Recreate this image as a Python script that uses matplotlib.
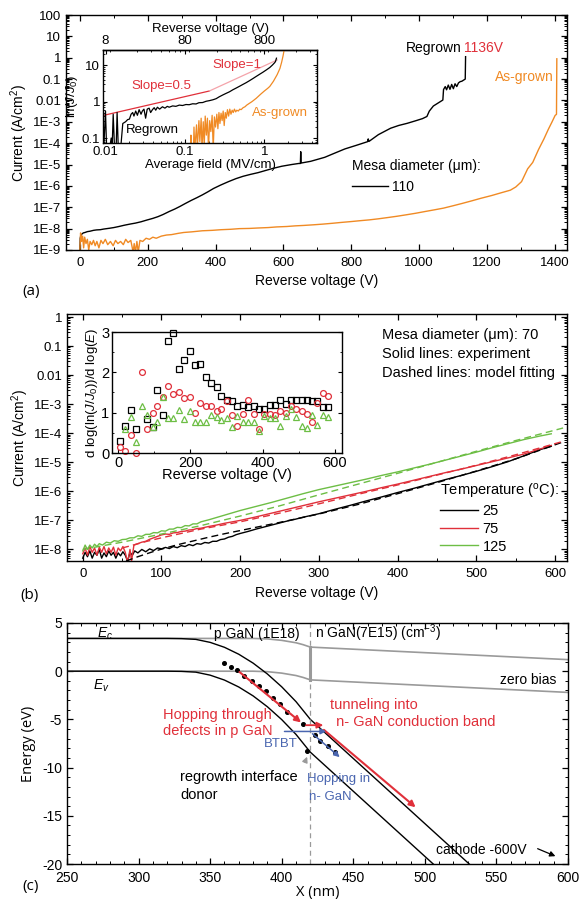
import numpy as np
import matplotlib.pyplot as plt
from matplotlib.ticker import FixedLocator, LogLocator, MultipleLocator, NullFormatter, FuncFormatter

plt.rcParams['font.family'] = ['Liberation Sans', 'DejaVu Sans']
plt.rcParams['mathtext.fontset'] = 'custom'
plt.rcParams['mathtext.rm'] = 'Liberation Sans'
plt.rcParams['mathtext.it'] = 'Liberation Sans:italic'
plt.rcParams['axes.linewidth'] = 1.0
plt.rcParams['axes.unicode_minus'] = False

# ---------------- data: panel (a) ----------------
reg_v = [0, 1, 3, 6, 10, 15, 22, 30, 40, 49, 60, 70, 88, 100, 115, 131, 150, 164, 180, 197,
         215, 230, 245, 263, 280, 295, 310, 328, 345, 361, 378, 394, 415, 438, 460, 481, 503,
         525, 547, 569, 595, 624, 645, 650, 651, 652, 680, 700, 722, 746, 781, 815, 848, 850,
         852, 880, 916, 940, 965, 990, 1010, 1023, 1030, 1042, 1062, 1070, 1072, 1077, 1081,
         1086, 1091, 1096, 1101, 1106, 1111, 1116, 1121, 1126, 1132, 1136, 1137]
reg_log = [-9.0, -8.45, -8.3, -8.25, -8.2, -8.18, -8.14, -8.12, -8.08, -8.06, -8.05, -8.02,
           -7.98, -7.95, -7.9, -7.84, -7.78, -7.74, -7.68, -7.6, -7.52, -7.44, -7.34, -7.2,
           -7.08, -6.96, -6.83, -6.68, -6.55, -6.42, -6.27, -6.12, -5.96, -5.8, -5.66, -5.55,
           -5.46, -5.38, -5.28, -5.18, -5.08, -5.0, -4.95, -4.95, -4.4, -4.93, -4.85, -4.76,
           -4.66, -4.5, -4.27, -4.1, -3.93, -3.8, -3.92, -3.6, -3.3, -3.17, -3.07, -2.95,
           -2.85, -2.75, -2.5, -2.26, -2.06, -1.98, -1.49, -1.35, -1.5, -1.28, -1.48, -1.25,
           -1.45, -1.22, -1.35, -1.18, -1.12, -1.1, -1.04, -1.0, 0.05]

asg_v = [0, 2, 5, 8, 11, 14, 18, 22, 26, 30, 35, 40, 45, 50, 56, 62, 68, 75, 82, 90, 98,
         105, 112, 120, 128, 135, 142, 150, 157, 160, 164, 168, 172, 177, 185, 195, 205, 215,
         225, 240, 255, 270, 290, 306, 330, 361, 390, 416, 445, 470, 500, 525, 555, 580, 610,
         635, 660, 689, 715, 744, 770, 799, 825, 853, 880, 908, 935, 963, 990, 1017, 1045,
         1072, 1100, 1127, 1155, 1182, 1214, 1240, 1269, 1285, 1302, 1320, 1335, 1352, 1368,
         1381, 1392, 1401, 1405, 1406]
asg_log = [-9.0, -8.2, -8.6, -8.35, -8.9, -8.4, -8.7, -8.5, -9.0, -8.6, -8.75, -8.55, -8.8,
           -8.6, -8.9, -8.55, -8.7, -8.5, -8.75, -8.6, -8.8, -8.55, -8.7, -8.6, -8.75, -8.5,
           -8.65, -8.55, -9.1, -8.7, -9.1, -8.6, -9.1, -8.55, -8.6, -8.45, -8.5, -8.4, -8.45,
           -8.35, -8.3, -8.28, -8.22, -8.18, -8.15, -8.1, -8.08, -8.05, -8.03, -8.0, -7.99,
           -7.97, -7.95, -7.92, -7.9, -7.87, -7.85, -7.82, -7.79, -7.75, -7.71, -7.67, -7.63,
           -7.59, -7.54, -7.48, -7.42, -7.35, -7.28, -7.2, -7.12, -7.04, -6.93, -6.82, -6.7,
           -6.58, -6.45, -6.33, -6.2, -6.05, -5.8, -5.2, -4.9, -4.3, -3.8, -3.35, -3.0, -2.7,
           -2.65, -0.05]

# inset (a): average field (MV/cm) vs ln(J/J0)
slope05_f = [0.0093, 0.203]
slope05_y = [0.415, 1.95]
slope1_f = [0.203, 1.45]
slope1_y = [1.95, 13.9]
reg_f = [0.0095, 0.0100, 0.0103, 0.0112, 0.0118, 0.0121, 0.0125, 0.0130, 0.0136, 0.0140,
         0.0145, 0.0155, 0.0165, 0.0179, 0.0190, 0.0200, 0.0210, 0.0220, 0.0228, 0.0240,
         0.0252, 0.0265, 0.0280, 0.0291, 0.0305, 0.0320, 0.0335, 0.0354, 0.0370, 0.0390,
         0.0410, 0.0429, 0.0450, 0.0480, 0.0521, 0.0560, 0.0600, 0.0633, 0.0700, 0.0769,
         0.0850, 0.0934, 0.103, 0.113, 0.125, 0.138, 0.150, 0.167, 0.185, 0.203, 0.225,
         0.247, 0.270, 0.300, 0.330, 0.363, 0.400, 0.442, 0.490, 0.536, 0.590, 0.651, 0.720,
         0.790, 0.870, 0.960, 1.06, 1.17, 1.26, 1.34, 1.38, 1.42]
reg_ln = [0.05, 0.55, 0.06, 0.05, 0.1, 0.05, 0.45, 0.05, 0.05, 0.5, 0.05, 0.05, 0.25, 0.28,
          0.32, 0.33, 0.45, 0.5, 0.4, 0.55, 0.42, 0.6, 0.45, 0.55, 0.62, 0.35, 0.62, 0.66,
          0.5, 0.6, 0.68, 0.58, 0.7, 0.62, 0.72, 0.66, 0.74, 0.7, 0.76, 0.74, 0.8, 0.78, 0.83,
          0.82, 0.87, 0.86, 0.93, 0.94, 1.02, 1.06, 1.12, 1.2, 1.35, 1.52, 1.68, 1.85, 2.1,
          2.35, 2.65, 2.95, 3.3, 3.75, 4.3, 4.9, 5.6, 6.4, 7.4, 8.6, 10.0, 11.5, 12.5, 15.5]
asg_f = [0.117, 0.119, 0.121, 0.128, 0.130, 0.133, 0.140, 0.143, 0.150, 0.154, 0.160, 0.164,
         0.170, 0.175, 0.180, 0.186, 0.192, 0.198, 0.205, 0.212, 0.220, 0.227, 0.235, 0.243,
         0.252, 0.260, 0.268, 0.276, 0.285, 0.294, 0.303, 0.312, 0.322, 0.332, 0.343, 0.355,
         0.367, 0.380, 0.393, 0.406, 0.42, 0.435, 0.45, 0.47, 0.49, 0.51, 0.54, 0.57, 0.60,
         0.65, 0.70, 0.79, 0.90, 1.00, 1.10, 1.17, 1.30, 1.45, 1.57, 1.65, 1.72, 1.78]
asg_ln = [0.05, 0.12, 0.05, 0.05, 0.2, 0.05, 0.23, 0.05, 0.3, 0.08, 0.35, 0.05, 0.28, 0.06,
          0.4, 0.12, 0.35, 0.05, 0.3, 0.15, 0.42, 0.05, 0.38, 0.2, 0.45, 0.18, 0.5, 0.25,
          0.48, 0.3, 0.55, 0.22, 0.5, 0.35, 0.6, 0.4, 0.62, 0.45, 0.58, 0.5, 0.62, 0.52,
          0.58, 0.55, 0.62, 0.6, 0.68, 0.72, 0.8, 0.9, 1.0, 1.23, 1.6, 1.95, 2.3, 2.6, 3.6,
          5.5, 8.1, 12.0, 18.0, 27.0]

# ---------------- data: panel (b) ----------------
b25_v = [0, 3, 6, 9, 12, 15, 18, 21, 24, 27, 30, 33, 36, 39, 42, 45, 48, 51, 54, 57, 60, 63,
         66, 70, 75, 80, 85, 90, 95, 100, 105, 110, 115, 120, 125, 130, 135, 140, 145, 150,
         155, 160, 165, 170, 175, 180, 185, 190, 195, 200, 210, 220, 230, 240, 250, 260, 270,
         280, 290, 300, 320, 340, 360, 380, 400, 420, 440, 460, 480, 500, 520, 540, 560, 580,
         595]
b25_log = [-8.3, -8.1, -8.25, -8.05, -8.3, -8.1, -8.2, -8.0, -8.3, -8.12, -8.25, -8.05, -8.2,
           -8.1, -8.3, -8.12, -8.22, -8.08, -8.2, -8.4, -8.1, -8.2, -8.05, -8.12, -8.0, -8.08,
           -7.98, -8.04, -7.95, -7.98, -7.93, -7.97, -7.9, -7.94, -7.87, -7.9, -7.83, -7.87,
           -7.8, -7.82, -7.76, -7.78, -7.72, -7.72, -7.66, -7.64, -7.58, -7.55, -7.49, -7.45,
           -7.38, -7.3, -7.23, -7.16, -7.09, -7.02, -6.96, -6.89, -6.83, -6.77, -6.62, -6.48,
           -6.33, -6.19, -6.04, -5.9, -5.75, -5.6, -5.46, -5.31, -5.15, -4.98, -4.78, -4.57,
           -4.45]
b25fit_v = [55, 60, 70, 80, 90, 100, 120, 140, 160, 180, 200, 250, 300, 350, 400, 450, 500,
            550, 610]
b25fit_log = [-8.4, -8.35, -8.25, -8.16, -8.07, -7.99, -7.84, -7.71, -7.58, -7.46, -7.35,
              -7.07, -6.78, -6.45, -6.08, -5.7, -5.3, -4.88, -4.3]

b75_v = [0, 3, 6, 9, 12, 15, 18, 21, 24, 27, 30, 33, 36, 39, 42, 45, 48, 51, 54, 57, 60, 62,
         65, 70, 75, 80, 85, 90, 95, 100, 105, 110, 115, 120, 125, 130, 135, 140, 145, 150,
         160, 170, 180, 190, 200, 220, 240, 260, 280, 300, 320, 340, 360, 380, 400, 420, 440,
         460, 480, 500, 520, 540, 560, 580, 595]
b75_log = [-8.15, -7.95, -8.2, -7.9, -8.1, -7.95, -8.2, -7.92, -8.1, -7.9, -8.15, -7.95, -8.1,
           -7.92, -8.2, -7.95, -8.05, -7.9, -8.1, -8.45, -8.0, -8.4, -7.85, -7.8, -7.75, -7.72,
           -7.65, -7.6, -7.55, -7.5, -7.47, -7.48, -7.43, -7.42, -7.38, -7.37, -7.33, -7.32,
           -7.28, -7.27, -7.21, -7.16, -7.1, -7.05, -7.0, -6.88, -6.75, -6.62, -6.49, -6.36,
           -6.24, -6.12, -6.0, -5.87, -5.75, -5.62, -5.49, -5.36, -5.24, -5.11, -4.98, -4.85,
           -4.72, -4.55, -4.42]
b75fit_v = [50, 60, 80, 100, 150, 200, 250, 300, 350, 400, 450, 500, 550, 610]
b75fit_log = [-7.95, -7.88, -7.73, -7.6, -7.3, -7.05, -6.75, -6.43, -6.1, -5.78, -5.44, -5.1,
              -4.74, -4.28]

b125_v = [0, 3, 6, 9, 12, 15, 18, 21, 25, 30, 35, 40, 45, 50, 55, 60, 65, 70, 75, 80, 85, 90,
          95, 100, 105, 110, 115, 120, 125, 130, 135, 140, 145, 150, 160, 170, 180, 190, 200,
          220, 240, 260, 280, 300, 320, 340, 360, 380, 400, 420, 440, 460, 480, 500, 520, 540,
          560, 580, 595]
b125_log = [-8.05, -7.85, -8.0, -7.85, -7.95, -7.82, -7.9, -7.8, -7.85, -7.75, -7.78, -7.7,
            -7.72, -7.66, -7.65, -7.6, -7.6, -7.53, -7.55, -7.48, -7.48, -7.42, -7.43, -7.36,
            -7.37, -7.3, -7.3, -7.24, -7.25, -7.18, -7.19, -7.12, -7.12, -7.05, -6.98, -6.9,
            -6.82, -6.74, -6.66, -6.52, -6.38, -6.23, -6.08, -5.94, -5.82, -5.7, -5.58, -5.45,
            -5.33, -5.2, -5.07, -4.93, -4.79, -4.65, -4.5, -4.36, -4.22, -4.1, -4.02]
b125fit_v = [0, 50, 100, 150, 200, 250, 300, 350, 400, 450, 500, 550, 610]
b125fit_log = [-8.0, -7.75, -7.47, -7.18, -6.85, -6.5, -6.12, -5.75, -5.38, -5.0, -4.62,
               -4.25, -3.82]

# inset (b): d log(ln(J/J0))/d log(E)
sq_v = [4, 19, 36, 50, 79, 96, 109, 123, 139, 153, 168, 183, 199, 214, 228, 243, 257, 273,
        286, 302, 316, 330, 346, 360, 376, 390, 404, 420, 434, 449, 464, 480, 493, 508, 522,
        537, 551, 566, 580]
sq_y = [0.29, 0.67, 1.06, 0.59, 0.85, 0.65, 1.56, 0.95, 2.77, 2.98, 2.08, 2.3, 2.52, 2.19,
        2.2, 1.89, 1.74, 1.64, 1.41, 1.32, 1.30, 1.17, 1.2, 1.14, 1.16, 1.1, 1.1, 1.18, 1.18,
        1.31, 1.22, 1.31, 1.32, 1.31, 1.31, 1.29, 1.28, 1.14, 1.15]
ci_v = [4, 19, 36, 50, 65, 79, 96, 109, 123, 139, 153, 168, 183, 199, 214, 228, 243, 257,
        273, 286, 302, 316, 330, 346, 360, 376, 390, 404, 420, 434, 449, 464, 480, 493, 508,
        522, 537, 551, 566, 580]
ci_y = [0.15, 0.06, 0.45, 0.0, 2.0, 0.6, 1.0, 1.17, 1.39, 1.67, 1.46, 1.5, 1.36, 1.38, 1.0,
        1.25, 1.17, 1.17, 1.03, 1.09, 1.28, 0.94, 0.67, 0.97, 1.31, 0.96, 0.6, 0.97, 0.96,
        0.95, 1.05, 0.98, 1.16, 1.08, 1.05, 0.96, 0.77, 1.23, 1.49, 1.41]
tr_v = [19, 36, 50, 65, 79, 96, 109, 123, 139, 153, 168, 183, 199, 214, 228, 243, 257, 273,
        286, 302, 316, 330, 346, 360, 376, 390, 404, 420, 434, 449, 464, 480, 493, 508, 522,
        537, 551, 566, 580]
tr_y = [0.59, 0.9, 0.28, 1.17, 0.95, 0.65, 0.78, 1.39, 0.86, 0.86, 1.07, 0.85, 1.03, 0.76,
        0.78, 0.78, 0.95, 0.9, 0.82, 0.86, 0.65, 0.92, 0.78, 0.78, 0.78, 0.55, 0.92, 0.88,
        0.87, 0.67, 0.92, 1.1, 0.9, 0.67, 0.62, 0.95, 0.7, 0.95, 0.9]

# ---------------- data: panel (c) ----------------
zb_x = [250, 380, 390, 400, 410, 415, 420, 600]
zb_ec = [3.4, 3.4, 3.35, 3.2, 2.95, 2.75, 2.5, 1.2]
zb_ev = [0.0, 0.0, -0.05, -0.2, -0.45, -0.65, -0.9, -2.2]
rb_x = [250, 320, 330, 340, 350, 360, 370, 380, 390, 400, 410, 420, 531]
rb_ec = [3.4, 3.4, 3.38, 3.3, 2.99, 2.48, 1.76, 0.84, -0.29, -1.62, -3.16, -5.0, -20.0]
rb_ev = [0.0, 0.0, -0.02, -0.1, -0.41, -0.92, -1.64, -2.56, -3.69, -5.02, -6.56, -8.4, -23.4]
iface_x = 420
hop_x = [360, 364.5, 369, 374, 379, 384, 389, 394, 399, 404, 415]
hop_e = [0.8, 0.4, 0.1, -0.5, -1.0, -1.5, -2.1, -2.8, -3.4, -4.2, -5.5]
nhop_x = [423, 427, 432, 437]
nhop_e = [-6.6, -7.2, -7.8, -8.4]
donor_x, donor_e = 418, -8.3

W, H = 581, 905
fig = plt.figure(figsize=(W / 100, H / 100), dpi=100)


def box(l, t, r, b):
    return [l / W, 1 - b / H, (r - l) / W, (b - t) / H]


def style(ax, size=9.5):
    ax.tick_params(which='both', direction='in', top=True, right=True, labelsize=size)
    ax.tick_params(axis='x', which='major', pad=5)
    ax.tick_params(which='major', length=4, width=0.9)
    ax.tick_params(which='minor', length=2, width=0.7)


def efmt(v, pos):
    e = int(round(np.log10(v)))
    if e <= -3:
        return '1E%d' % e
    if e < 0:
        return '%g' % v
    return '%d' % round(v)


OR = '#F08A24'
RED = '#E0303A'
GRN = '#6DBE45'
BLUE = '#4A66B0'
GRAY = '#9A9A9A'
PFONT = 'Open Sans'

# ================= panel (a) =================
ax = fig.add_axes(box(66, 15, 567, 250))
ax.semilogy(reg_v, 10.0 ** np.array(reg_log), color='k', lw=1.0, label='110')
ax.semilogy(asg_v, 10.0 ** np.array(asg_log), color=OR, lw=1.0)
ax.set_xlim(-41, 1436)
ax.set_ylim(1e-9, 100)
ax.xaxis.set_major_locator(MultipleLocator(200))
ax.xaxis.set_minor_locator(MultipleLocator(100))
ax.yaxis.set_major_locator(LogLocator(base=10, numticks=20))
ax.yaxis.set_minor_locator(LogLocator(base=10, subs=np.arange(2, 10), numticks=200))
ax.yaxis.set_major_formatter(FuncFormatter(efmt))
ax.yaxis.set_minor_formatter(NullFormatter())
style(ax)
ax.set_xlabel('Reverse voltage (V)', fontsize=10, labelpad=4)
ax.set_ylabel('Current (A/cm$^2$)', fontsize=10, labelpad=2)
ax.text(960, 2.8, 'Regrown', fontsize=10, va='center')
ax.text(1133, 2.8, '1136V', fontsize=10, color=RED, va='center')
ax.text(1225, 0.13, 'As-grown', fontsize=10, color=OR, va='center')
leg = ax.legend(loc='upper left', bbox_to_anchor=(0.56, 0.41), frameon=False, fontsize=10,
                title='Mesa diameter (\u03bcm):', title_fontsize=10, handlelength=2.6,
                handletextpad=0.3, borderaxespad=0)
leg._legend_box.align = 'left'
fig.text(22 / W, 1 - 291 / H, '(a)', fontsize=11, family=PFONT, va='center')

# inset (a)
ai = fig.add_axes(box(103, 50, 317, 143))
ai.loglog(slope05_f, slope05_y, color=RED, lw=0.9)
ai.loglog(slope1_f, slope1_y, color='#F4A3AA', lw=0.9)
ai.loglog(reg_f, reg_ln, color='k', lw=0.9)
ai.loglog(asg_f, asg_ln, color=OR, lw=0.9)
ai.set_xlim(0.0093, 4.6)
ai.set_ylim(0.073, 26)
ai.xaxis.set_major_locator(FixedLocator([0.01, 0.1, 1]))
ai.xaxis.set_major_formatter(FuncFormatter(lambda v, p: '%g' % v))
ai.yaxis.set_major_locator(FixedLocator([0.1, 1, 10]))
ai.yaxis.set_major_formatter(FuncFormatter(lambda v, p: '%g' % v))
ai.xaxis.set_minor_locator(LogLocator(base=10, subs=np.arange(2, 10), numticks=50))
ai.yaxis.set_minor_locator(LogLocator(base=10, subs=np.arange(2, 10), numticks=50))
ai.xaxis.set_minor_formatter(NullFormatter())
ai.yaxis.set_minor_formatter(NullFormatter())
ai.tick_params(which='both', direction='in', right=True, top=False, labelsize=9.5, pad=2)
ai.tick_params(which='major', length=3)
ai.tick_params(which='minor', length=1.5)
ai.set_xlabel('Average field (MV/cm)', fontsize=9.5, labelpad=1)
ai.set_ylabel('ln($J$/$J_0$)', fontsize=9.5, labelpad=1)
sec = ai.secondary_xaxis('top', functions=(lambda f: f * 800, lambda v: v / 800))
sec.xaxis.set_major_locator(FixedLocator([8, 80, 800]))
sec.xaxis.set_major_formatter(FuncFormatter(lambda v, p: '%g' % v))
sec.xaxis.set_minor_locator(LogLocator(base=10, subs=np.arange(2, 10), numticks=50))
sec.xaxis.set_minor_formatter(NullFormatter())
sec.tick_params(which='both', direction='in', labelsize=9.5, pad=2)
sec.tick_params(which='major', length=3)
sec.tick_params(which='minor', length=1.5)
sec.set_xlabel('Reverse voltage (V)', fontsize=9.5, labelpad=2)
ai.text(0.021, 2.7, 'Slope=0.5', color=RED, fontsize=9.5, va='center')
ai.text(0.22, 10.0, 'Slope=1', color=RED, fontsize=9.5, va='center')
ai.text(0.018, 0.17, 'Regrown', color='k', fontsize=9.5, va='center')
ai.text(0.7, 0.5, 'As-grown', color=OR, fontsize=9.5, va='center')

# ================= panel (b) =================
bx = fig.add_axes(box(67, 314, 567, 561))
bx.semilogy(b25_v, 10.0 ** np.array(b25_log), color='k', lw=1.0, label='25')
bx.semilogy(b75_v, 10.0 ** np.array(b75_log), color=RED, lw=1.0, label='75')
bx.semilogy(b125_v, 10.0 ** np.array(b125_log), color=GRN, lw=1.0, label='125')
bx.semilogy(b25fit_v, 10.0 ** np.array(b25fit_log), color='k', lw=1.0, ls=(0, (5, 3)))
bx.semilogy(b75fit_v, 10.0 ** np.array(b75fit_log), color=RED, lw=1.0, ls=(0, (5, 3)))
bx.semilogy(b125fit_v, 10.0 ** np.array(b125fit_log), color=GRN, lw=1.0, ls=(0, (5, 3)))
bx.set_xlim(-20, 615)
bx.set_ylim(4e-9, 1.27)
bx.xaxis.set_major_locator(MultipleLocator(100))
bx.xaxis.set_minor_locator(MultipleLocator(50))
bx.yaxis.set_major_locator(LogLocator(base=10, numticks=20))
bx.yaxis.set_minor_locator(LogLocator(base=10, subs=np.arange(2, 10), numticks=200))
bx.yaxis.set_major_formatter(FuncFormatter(efmt))
bx.yaxis.set_minor_formatter(NullFormatter())
style(bx)
bx.set_xlabel('Reverse voltage (V)', fontsize=10, labelpad=4)
bx.set_ylabel('Current (A/cm$^2$)', fontsize=10, labelpad=2)
for i, s in enumerate(['Mesa diameter (\u03bcm): 70', 'Solid lines: experiment',
                       'Dashed lines: model fitting']):
    bx.text(0.63, 0.915 - i * 0.077, s, transform=bx.transAxes, fontsize=10.5, va='center')
leg = bx.legend(loc='upper left', bbox_to_anchor=(0.735, 0.345), frameon=False, fontsize=10.5,
                title='Temperature ($^{\\rm o}$C):', title_fontsize=10.5, handlelength=2.6,
                handletextpad=0.3, borderaxespad=0, labelspacing=0.25)
leg._legend_box.align = 'left'
fig.text(20 / W, 1 - 596 / H, '(b)', fontsize=11, family=PFONT, va='center')

# inset (b)
bi = fig.add_axes(box(112, 332, 342, 453))
bi.plot(sq_v, sq_y, ls='none', marker='s', ms=4, mfc='none', mec='k', mew=0.9, clip_on=False)
bi.plot(ci_v, ci_y, ls='none', marker='o', ms=4.2, mfc='none', mec=RED, mew=0.9, clip_on=False)
bi.plot(tr_v, tr_y, ls='none', marker='^', ms=4.4, mfc='none', mec=GRN, mew=0.9, clip_on=False)
bi.set_xlim(-17, 620)
bi.set_ylim(0, 3)
bi.xaxis.set_major_locator(MultipleLocator(200))
bi.xaxis.set_minor_locator(MultipleLocator(100))
bi.yaxis.set_major_locator(MultipleLocator(1))
bi.yaxis.set_minor_locator(MultipleLocator(0.5))
bi.tick_params(which='both', direction='in', right=True, labelsize=10.5, pad=2)
bi.tick_params(which='major', length=3)
bi.tick_params(which='minor', length=1.5)
bi.set_xlabel('Reverse voltage (V)', fontsize=10.5, labelpad=-1)
bi.set_ylabel('d log(ln($J$/$J_0$))/d log($E$)', fontsize=9.5, labelpad=1)

# ================= panel (c) =================
cx = fig.add_axes(box(67, 623, 568, 864))
cx.plot(zb_x, zb_ec, color=GRAY, lw=1.2)
cx.plot(zb_x, zb_ev, color=GRAY, lw=1.2)
cx.plot(rb_x, rb_ec, color='k', lw=1.0)
cx.plot(rb_x, rb_ev, color='k', lw=1.0)
cx.axvline(iface_x, color=GRAY, lw=0.9, ls=(0, (4, 3)))
cx.plot([iface_x, iface_x], [zb_ec[-2], zb_ev[-2]], color=GRAY, lw=2.2)
cx.set_xlim(250, 600)
cx.set_ylim(-20, 5)
cx.xaxis.set_major_locator(MultipleLocator(50))
cx.xaxis.set_minor_locator(MultipleLocator(10))
cx.yaxis.set_major_locator(MultipleLocator(5))
cx.yaxis.set_minor_locator(MultipleLocator(1))
style(cx, size=10)
cx.tick_params(axis='x', which='major', pad=5)
cx.set_xlabel('X (nm)', fontsize=10.5, family=PFONT, labelpad=0)
cx.set_ylabel('Energy (eV)', fontsize=10.5, family=PFONT, labelpad=4)
fig.text(22 / W, 1 - 886 / H, '(c)', fontsize=11, family=PFONT, va='center')

# hopping path in p GaN
cx.annotate('', xy=(hop_x[-1], hop_e[-1]), xytext=(hop_x[2], hop_e[2]),
            arrowprops=dict(arrowstyle='-|>', color=RED, lw=1.5, mutation_scale=9))
cx.plot(hop_x, hop_e, ls='none', marker='o', ms=2.6, color='k')
# tunnelling into n-GaN conduction band
cx.annotate('', xy=(431, -5.6), xytext=(hop_x[-1], -5.6),
            arrowprops=dict(arrowstyle='-|>', color=RED, lw=1.3, mutation_scale=9))
cx.annotate('', xy=(495, -14.3), xytext=(428, -5.9),
            arrowprops=dict(arrowstyle='-|>', color=RED, lw=1.5, mutation_scale=9))
# BTBT and hopping in n GaN
cx.annotate('', xy=(433, -6.25), xytext=(400, -6.25),
            arrowprops=dict(arrowstyle='-|>', color=BLUE, lw=1.1, mutation_scale=8))
cx.annotate('', xy=(442, -9.1), xytext=(420, -6.3),
            arrowprops=dict(arrowstyle='-|>', color=BLUE, lw=1.1, mutation_scale=8))
cx.plot(nhop_x, nhop_e, ls='none', marker='o', ms=2.6, color='k')
cx.plot(donor_x, donor_e, marker='o', ms=2.6, color='k')
cx.annotate('', xy=(donor_x + 0.5, donor_e - 0.3), xytext=(415.5, -9.7),
            arrowprops=dict(arrowstyle='-|>', color=GRAY, lw=1.0, mutation_scale=8))
cx.annotate('', xy=(593, -19.3), xytext=(577, -18.3),
            arrowprops=dict(arrowstyle='-|>', color='k', lw=0.9, mutation_scale=8))

cx.text(271, 3.9, '$E_c$', fontsize=10, va='center')
cx.text(268, -1.5, '$E_v$', fontsize=10, va='center')
cx.text(353, 3.9, 'p GaN (1E18)', fontsize=10, va='center')
cx.text(423, 3.9, 'n GaN(7E15) (cm$^{-3}$)', fontsize=10, va='center')
cx.text(592, -0.9, 'zero bias', fontsize=10, va='center', ha='right')
cx.text(317, -4.5, 'Hopping through', color=RED, fontsize=10.5, va='center')
cx.text(317, -6.2, 'defects in p GaN', color=RED, fontsize=10.5, va='center')
cx.text(434, -3.5, 'tunneling into', color=RED, fontsize=10.5, va='center')
cx.text(435, -5.3, ' n- GaN conduction band', color=RED, fontsize=10.5, va='center')
cx.text(399, -7.6, 'BTBT', color=BLUE, fontsize=9.5, va='center', ha='center')
cx.text(329, -11.0, 'regrowth interface', fontsize=10.5, va='center')
cx.text(329, -12.8, 'donor', fontsize=10.5, va='center')
cx.text(418, -11.2, 'Hopping in', color=BLUE, fontsize=9.5, va='center')
cx.text(419, -13.1, 'n- GaN', color=BLUE, fontsize=9.5, va='center')
cx.text(508, -18.5, 'cathode -600V', fontsize=10, va='center')

fig.savefig('out.png', dpi=100)
